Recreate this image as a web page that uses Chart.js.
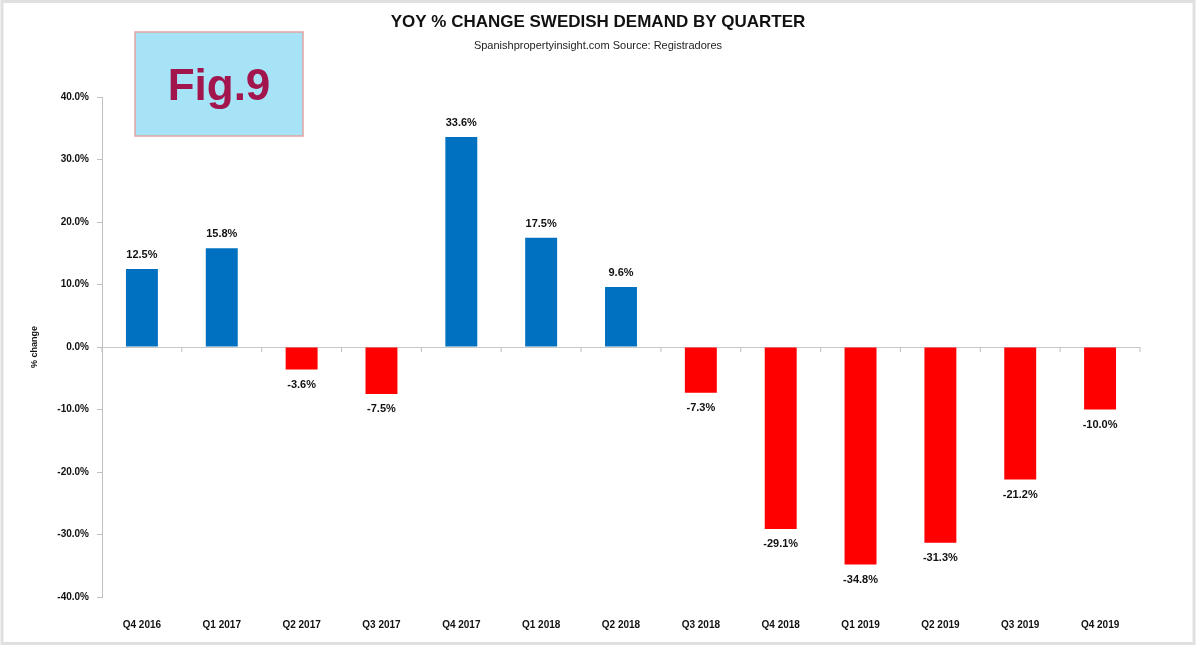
<!DOCTYPE html>
<html>
<head>
<meta charset="utf-8">
<script src="https://cdn.jsdelivr.net/npm/chart.js@4/dist/chart.umd.min.js"></script>
<style>
html,body{margin:0;padding:0;background:#fff;}
#wrap{width:1200px;height:648px;position:relative;}
</style>
</head>
<body>
<div id="wrap"><canvas id="c" width="1200" height="648"></canvas></div>
<script>
const categories = ["Q4 2016","Q1 2017","Q2 2017","Q3 2017","Q4 2017","Q1 2018","Q2 2018","Q3 2018","Q4 2018","Q1 2019","Q2 2019","Q3 2019","Q4 2019"];
const yoyChange = [12.5, 15.8, -3.6, -7.5, 33.6, 17.5, 9.6, -7.3, -29.1, -34.8, -31.3, -21.2, -10.0];
const titleText = "YOY % CHANGE SWEDISH DEMAND BY QUARTER";
const subtitleText = "Spanishpropertyinsight.com Source: Registradores";
const figLabel = "Fig.9";
const yAxisTitle = "% change";

const FONT = "'Liberation Sans', Arial, sans-serif";

const decor = {
  id: 'decor',
  beforeDraw(chart) {
    const ctx = chart.ctx;
    ctx.save();
    ctx.fillStyle = '#ffffff';
    ctx.fillRect(0, 0, chart.width, chart.height);
    ctx.strokeStyle = '#e0e0e0';
    ctx.lineWidth = 3;
    ctx.strokeRect(2, 1.5, 1192, 642);
    ctx.restore();
  },
  afterDraw(chart) {
    const ctx = chart.ctx;
    const xs = chart.scales.x, ys = chart.scales.y;
    ctx.save();
    // title
    ctx.fillStyle = '#111';
    ctx.textAlign = 'center';
    ctx.textBaseline = 'middle';
    ctx.font = "bold 17px " + FONT;
    ctx.fillText(titleText, 598, 22);
    ctx.font = "11px " + FONT;
    ctx.fillStyle = '#222';
    ctx.fillText(subtitleText, 598, 46);
    // fig box
    ctx.fillStyle = '#a6e3f7';
    ctx.fillRect(135, 32, 168, 104);
    ctx.strokeStyle = '#e3a3a3';
    ctx.lineWidth = 1.5;
    ctx.strokeRect(135, 32, 168, 104);
    ctx.fillStyle = '#a3154d';
    ctx.font = "bold 44px " + FONT;
    ctx.fillText(figLabel, 219, 88);
    // x tick marks on the zero line
    const y0 = ys.getPixelForValue(0);
    ctx.strokeStyle = '#bfbfbf';
    ctx.lineWidth = 1;
    for (let i = 0; i <= categories.length; i++) {
      let x;
      if (i === 0) x = chart.chartArea.left;
      else if (i === categories.length) x = chart.chartArea.right;
      else x = (xs.getPixelForTick(i - 1) + xs.getPixelForTick(i)) / 2;
      ctx.beginPath();
      ctx.moveTo(x, y0);
      ctx.lineTo(x, y0 + 5);
      ctx.stroke();
    }
    // data labels
    ctx.fillStyle = '#111';
    ctx.font = "bold 11px " + FONT;
    const meta = chart.getDatasetMeta(0);
    meta.data.forEach((bar, i) => {
      const v = yoyChange[i];
      const txt = v.toFixed(1) + '%';
      const y = v >= 0 ? bar.y - 14 : bar.y + 15;
      ctx.fillText(txt, bar.x, y);
    });
    ctx.restore();
  }
};

new Chart(document.getElementById('c'), {
  type: 'bar',
  data: {
    labels: categories,
    datasets: [{
      data: yoyChange,
      backgroundColor: yoyChange.map(v => v >= 0 ? '#0070c0' : '#ff0000'),
      barPercentage: 0.4,
      categoryPercentage: 1.0
    }]
  },
  options: {
    responsive: false,
    animation: false,
    devicePixelRatio: 1,
    layout: { padding: { left: 29, right: 60, top: 97, bottom: 0 } },
    plugins: { legend: { display: false }, tooltip: { enabled: false } },
    scales: {
      x: {
        grid: { display: false },
        border: { display: false },
        ticks: { color: '#111', font: { family: FONT, size: 10, weight: 'bold' }, padding: 14, maxRotation: 0 },
        afterFit(s) { s.height = 51; }
      },
      y: {
        min: -40, max: 40,
        ticks: {
          stepSize: 10,
          color: '#111',
          font: { family: FONT, size: 10, weight: 'bold' },
          padding: 8,
          callback: v => v.toFixed(1) + '%'
        },
        grid: {
          drawOnChartArea: true,
          color: ctx => (ctx.tick && ctx.tick.value === 0) ? '#c8c8c8' : 'rgba(0,0,0,0)',
          tickColor: '#bfbfbf',
          tickLength: 5
        },
        border: { display: true, color: '#bfbfbf' },
        title: { display: true, text: yAxisTitle, color: '#111', font: { family: FONT, size: 9, weight: 'bold' }, padding: { top: 0, bottom: 0 } },
        afterFit(s) { s.width = 73; }
      }
    }
  },
  plugins: [decor]
});
</script>
</body>
</html>
